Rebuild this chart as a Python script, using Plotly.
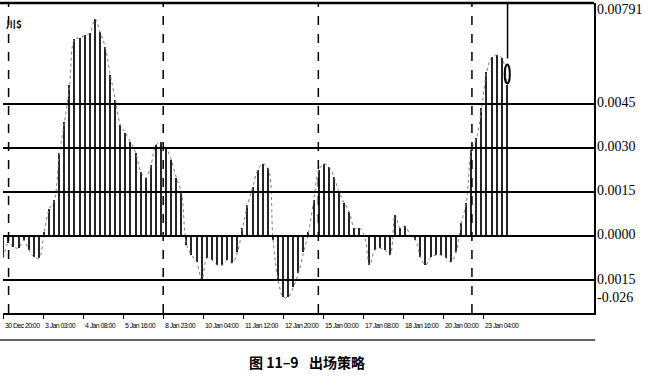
import plotly.graph_objects as go

# ---- data ----
values = [
    -0.00075, -0.00024, -0.00038, -0.00041, -0.00014, -0.00048, -0.00072, -0.00075,
    0.00014, 0.00092, 0.00123, 0.00283, 0.00389, 0.00515, 0.00672, 0.00675,
    0.00685, 0.00692, 0.00740, 0.00695, 0.00644, 0.00549, 0.00464, 0.00378,
    0.00351, 0.00320, 0.00283, 0.00218, 0.00198, 0.00242, 0.00310, 0.00320,
    0.00300, 0.00259, 0.00198, 0.00147, -0.00031, -0.00065, -0.00089, -0.00150,
    -0.00075, -0.00082, -0.00099, -0.00099, -0.00082, -0.00092, -0.00055, 0.00027,
    0.00106, 0.00167, 0.00225, 0.00246, 0.00232, -0.00014, -0.00150, -0.00208,
    -0.00208, -0.00174, -0.00126, -0.00055, 0.00014, 0.00123, 0.00225, 0.00246,
    0.00235, 0.00201, 0.00147, 0.00113, 0.00082, 0.00027, 0.00027, -0.00003,
    -0.00099, -0.00048, -0.00041, -0.00048, -0.00065, 0.00072, 0.00027, 0.00034,
    0.00000, -0.00014, -0.00072, -0.00099, -0.00072, -0.00065, -0.00065, -0.00075,
    -0.00089, -0.00055, 0.00044, 0.00113, 0.00293, 0.00334, 0.00436, 0.00559,
    0.00610, 0.00617, 0.00607, 0.00515,
]
bar_index = list(range(len(values)))

tick_labels = ["30 Dec 20:00", "3 Jan 03:00", "4 Jan 08:00", "5 Jan 16:00",
               "8 Jan 23:00", "10 Jan 04:00", "11 Jan 12:00", "12 Jan 20:00",
               "15 Jan 00:00", "17 Jan 08:00", "18 Jan 16:00", "20 Jan 00:00",
               "23 Jan 04:00"]
tick_step = 7.865
tick_positions = [k * tick_step - 0.04 for k in range(len(tick_labels))]

session_lines = [1.0, 31.4, 61.9, 92.1]

grid_levels = [0.0045, 0.0030, 0.0015, 0.0, -0.0015]
y_label_vals = [0.00791, 0.0045, 0.0030, 0.0015, 0.0, -0.0015, -0.00211]
y_label_text = ["0.00791", "0.0045", "0.0030", "0.0015", "0.0000", "0.0015", "-0.026"]
y_label_shift = [-6, 2, 2, 2, 2, 1, 0]

caption_left = "图 11–9"
caption_right = "出场策略"

x_range = [-0.098, 116.1]
y_range = [-0.002625, 0.007943]

fig = go.Figure()

fig.add_trace(go.Bar(
    x=bar_index, y=values, width=0.28,
    marker=dict(color="#262626", line=dict(width=0)),
    showlegend=False,
))
fig.add_trace(go.Scatter(
    x=bar_index, y=values, mode="lines",
    line=dict(color="#808080", width=1, dash="dot", shape="spline"),
    showlegend=False,
))

shapes = []
for g in grid_levels:
    shapes.append(dict(type="line", xref="paper", yref="y", x0=0, x1=1, y0=g, y1=g,
                       line=dict(color="black", width=1.8), layer="above"))
shapes.append(dict(type="line", xref="paper", yref="paper", x0=-0.005, x1=1, y0=1, y1=1,
                   line=dict(color="black", width=2.5)))
for s in session_lines:
    shapes.append(dict(type="line", xref="x", yref="paper", x0=s, x1=s, y0=0, y1=1,
                       line=dict(color="black", width=1.5, dash="dash"), layer="above"))
# bottom rule under the time labels
shapes.append(dict(type="line", xref="paper", yref="paper", x0=-0.005, x1=1.002,
                   y0=-0.087, y1=-0.087, line=dict(color="#333333", width=1.5)))
# marker circle at the last bar, with pointer line
last_x = bar_index[-1]
last_v = values[-1]
shapes.append(dict(type="circle", xref="x", yref="y",
                   x0=last_x - 0.45, x1=last_x + 0.55,
                   y0=last_v + 0.00005, y1=last_v + 0.0007,
                   line=dict(color="black", width=2)))
shapes.append(dict(type="line", xref="x", yref="y", x0=last_x + 0.1, x1=last_x + 0.1,
                   y0=last_v + 0.0009, y1=y_range[1],
                   line=dict(color="black", width=1.5)))

annotations = []
for v, t, sh in zip(y_label_vals, y_label_text, y_label_shift):
    annotations.append(dict(x=1, xref="paper", y=v, yref="y", text=t, showarrow=False,
                            xanchor="left", yanchor="middle", xshift=1, yshift=sh,
                            font=dict(family="Liberation Serif", size=14, color="black")))
for p, t in zip(tick_positions, tick_labels):
    annotations.append(dict(x=p, xref="x", y=0, yref="paper",
                            text='<span style="letter-spacing:-0.6px">' + t + '</span>',
                            showarrow=False,
                            xanchor="left", yanchor="middle", xshift=0, yshift=-12,
                            font=dict(family="Liberation Sans", size=7, color="black")))
annotations.append(dict(x=0, xref="paper", y=1, yref="paper", text="<b>川$</b>", showarrow=False,
                        xanchor="left", yanchor="top", xshift=1, yshift=-11,
                        font=dict(family="Noto Sans CJK SC", size=10, color="black")))
annotations.append(dict(x=0.505, xref="paper", y=-0.158, yref="paper", text="<b>" + caption_left + "</b>",
                        showarrow=False, xanchor="right", yanchor="middle",
                        font=dict(family="Noto Sans CJK SC", size=14, color="black")))
annotations.append(dict(x=0.515, xref="paper", y=-0.158, yref="paper", text="<b>" + caption_right + "</b>",
                        showarrow=False, xanchor="left", yanchor="middle",
                        font=dict(family="Noto Sans CJK SC", size=14, color="black")))

fig.update_layout(
    width=650, height=376,
    margin=dict(l=3, r=56, t=3, b=63),
    paper_bgcolor="white", plot_bgcolor="white",
    bargap=0, showlegend=False,
    shapes=shapes, annotations=annotations,
    xaxis=dict(range=x_range, showgrid=False, zeroline=False, showline=True,
               linecolor="black", linewidth=1.5, ticks="outside", ticklen=4,
               tickcolor="black", tickvals=tick_positions, showticklabels=False),
    yaxis=dict(range=y_range, side="right", showgrid=False, zeroline=False,
               showline=True, linecolor="black", linewidth=2, ticks="",
               showticklabels=False),
)

fig.write_html("out.html")
